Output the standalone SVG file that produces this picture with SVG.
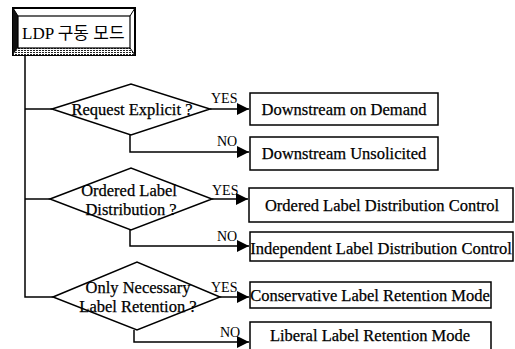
<svg xmlns="http://www.w3.org/2000/svg" width="515" height="349" viewBox="0 0 515 349">
<defs>
<marker id="ah" markerWidth="12" markerHeight="12" refX="12" refY="6" orient="auto" markerUnits="userSpaceOnUse">
<path d="M0,0 L12,6 L0,12 Z" fill="#000"/>
</marker>
<pattern id="dots" width="3" height="2" patternUnits="userSpaceOnUse">
<rect width="3" height="2" fill="#fff"/>
<rect width="2" height="1" fill="#222"/>
</pattern>
<style>
.box{fill:#fff;stroke:#000;stroke-width:1.5}
.dia{fill:#fff;stroke:#000;stroke-width:1.5}
.ln{fill:none;stroke:#000;stroke-width:1.5}
.t{font-family:"Liberation Serif","Times New Roman",serif;font-size:16.5px;fill:#000;stroke:#000;stroke-width:0.25;text-anchor:middle}
.lbl{font-family:"Liberation Serif","Times New Roman",serif;font-size:14px;fill:#000}
.kr{font-family:"Liberation Serif","Noto Sans CJK KR",serif;font-size:17px;fill:#000}
</style>
</defs>
<rect width="515" height="349" fill="#fff"/>

<g id="connectors">
<polyline class="ln" points="25,55 25,297 53,297"/>
<line class="ln" x1="25" y1="109" x2="52" y2="109"/>
<line class="ln" x1="25" y1="199" x2="50" y2="199"/>
<line class="ln" x1="210" y1="109" x2="249" y2="109" marker-end="url(#ah)"/>
<polyline class="ln" points="130,135 130,152 249,152" marker-end="url(#ah)"/>
<line class="ln" x1="212" y1="199" x2="248" y2="199" marker-end="url(#ah)"/>
<polyline class="ln" points="130,230 130,246 249,246" marker-end="url(#ah)"/>
<line class="ln" x1="220" y1="297" x2="249" y2="297" marker-end="url(#ah)"/>
<polyline class="ln" points="134,330 134,342 249,342" marker-end="url(#ah)"/>
<text class="lbl" x="211" y="103">YES</text>
<text class="lbl" x="217" y="146">NO</text>
<text class="lbl" x="212" y="195">YES</text>
<text class="lbl" x="217" y="241">NO</text>
<text class="lbl" x="211" y="292">YES</text>
<text class="lbl" x="220" y="337">NO</text>
</g>

<g id="start">
<rect x="13" y="8" width="122" height="47" fill="#fff" stroke="#000" stroke-width="2"/>
<polygon points="13,8 18,16 18,48 13,55" fill="#111"/>
<polygon points="13,55 18,48 130,48 135,55" fill="url(#dots)"/>
<line x1="13" y1="8" x2="18" y2="16" stroke="#000" stroke-width="1"/>
<line x1="135" y1="8" x2="130" y2="16" stroke="#000" stroke-width="1"/>
<line x1="135" y1="55" x2="130" y2="48" stroke="#000" stroke-width="1"/>
<rect x="18" y="16" width="112" height="32" fill="#fff" stroke="#000" stroke-width="1.2"/>
<text class="kr" x="22" y="39">LDP 구동 모드</text>
</g>

<g id="q1">
<polygon class="dia" points="52,109 131,84 210,109 131,135"/>
<text class="t" x="132" y="115">Request Explicit ?</text>
</g>
<g id="q2">
<polygon class="dia" points="50,199 131,168 212,199 131,230"/>
<text class="t" x="129" y="196">Ordered Label</text>
<text class="t" x="131" y="215">Distribution ?</text>
</g>
<g id="q3">
<polygon class="dia" points="53,297 137,262 220,297 137,330"/>
<text class="t" x="138" y="293">Only Necessary</text>
<text class="t" x="138" y="312">Label Retention ?</text>
</g>

<g id="r1">
<rect class="box" x="250" y="93" width="188" height="32"/>
<text class="t" x="344" y="115">Downstream on Demand</text>
</g>
<g id="r2">
<rect class="box" x="250" y="137" width="188" height="33"/>
<text class="t" x="344" y="159">Downstream Unsolicited</text>
</g>
<g id="r3">
<rect class="box" x="249" y="188" width="264" height="34"/>
<text class="t" x="382" y="211">Ordered Label Distribution Control</text>
</g>
<g id="r4">
<rect class="box" x="250" y="232" width="263" height="29"/>
<text class="t" x="381" y="254">Independent Label Distribution Control</text>
</g>
<g id="r5">
<rect class="box" x="250" y="282" width="241" height="26"/>
<text class="t" x="370" y="301">Conservative Label Retention Mode</text>
</g>
<g id="r6">
<rect class="box" x="250" y="322" width="241" height="32"/>
<text class="t" x="370" y="341">Liberal Label Retention Mode</text>
</g>
</svg>
